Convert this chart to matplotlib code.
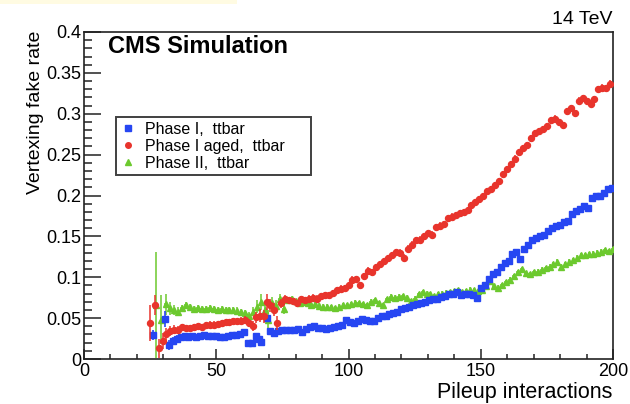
import matplotlib
matplotlib.use('Agg')
import matplotlib.pyplot as plt
from matplotlib.lines import Line2D
from matplotlib.patches import Rectangle
from matplotlib.ticker import MultipleLocator, FuncFormatter

plt.rcParams['font.family'] = ['Liberation Sans', 'DejaVu Sans']

# Phase I, ttbar (blue squares)
blue_x = [26, 30.5, 32, 33.5, 35, 36.5, 38, 39.5, 41, 42.5, 44, 45.5, 47, 48.5, 50, 51.5, 53, 54.5,
          56, 57.5, 59, 60.5, 62, 63.5, 65, 66, 67, 69, 70.5, 72, 73.5, 75, 76.5, 78, 79.5, 81,
          82.5, 84, 85.5, 87, 88.5, 90, 91.5, 93, 94.5, 96, 97.5, 99, 100.5, 102, 103.5, 105,
          106.5, 108, 109.5, 111, 112.5, 114, 115.5, 117, 118.5, 120, 121.5, 123, 124.5, 126,
          127.5, 129, 130.5, 132, 133.5, 135, 136.5, 138, 139.5, 141, 142.5, 144, 145.5, 147,
          148.5, 150, 151.5, 153, 154.5, 156, 157.5, 159, 160.5, 162, 163.5, 165, 166.5, 168,
          169.5, 171, 172.5, 174, 175.5, 177, 178.5, 180, 181.5, 183, 184.5, 186, 187.5, 189,
          190.5, 192, 193.5, 195, 196.5, 198, 199.5]
blue_y = [0.029, 0.049, 0.017, 0.022, 0.025, 0.027, 0.028, 0.027, 0.028, 0.027, 0.028, 0.029, 0.028,
          0.028, 0.028, 0.027, 0.027, 0.028, 0.029, 0.029, 0.031, 0.033, 0.020, 0.020, 0.028, 0.025,
          0.021, 0.050, 0.034, 0.032, 0.034, 0.035, 0.036, 0.036, 0.036, 0.037, 0.033, 0.037, 0.039,
          0.040, 0.038, 0.038, 0.037, 0.038, 0.039, 0.040, 0.042, 0.048, 0.045, 0.044, 0.047, 0.049,
          0.048, 0.047, 0.047, 0.050, 0.053, 0.053, 0.055, 0.056, 0.058, 0.061, 0.062, 0.064, 0.066,
          0.067, 0.069, 0.070, 0.072, 0.073, 0.074, 0.076, 0.077, 0.079, 0.079, 0.082, 0.078, 0.079,
          0.080, 0.078, 0.075, 0.087, 0.091, 0.098, 0.104, 0.107, 0.112, 0.117, 0.120, 0.129, 0.131,
          0.122, 0.134, 0.140, 0.145, 0.148, 0.150, 0.152, 0.156, 0.160, 0.163, 0.164, 0.167, 0.169,
          0.177, 0.181, 0.183, 0.187, 0.185, 0.197, 0.199, 0.200, 0.203, 0.208, 0.209]
blue_err_start = [0.006, 0.010, 0.006, 0.005, 0.004, 0.003]

# Phase I aged, ttbar (red circles)
red_x = [25, 27, 28.5, 30, 31, 32.5, 34, 35.5, 37, 38.5, 40, 41.5, 43, 44.5, 46, 47.5, 49, 50.5,
         52, 53.5, 55, 56.5, 58, 59.5, 61, 62.5, 64, 65, 66.5, 68, 69, 70.5, 72, 73, 74.5, 76,
         77.5, 79, 80.5, 82, 83.5, 85, 86.5, 88, 89.5, 91, 92.5, 94, 95.5, 97, 98.5, 100, 101.5,
         103, 104.5, 106, 107.5, 109, 110.5, 112, 113.5, 115, 116.5, 118, 119.5, 121, 122.5, 124,
         125.5, 127, 128.5, 130, 131.5, 133, 134.5, 136, 137.5, 139, 140.5, 142, 143.5, 145, 146.5,
         148, 149.5, 151, 152.5, 154, 155.5, 157, 158.5, 160, 161.5, 163, 164.5, 166, 167.5, 169,
         170.5, 172, 173.5, 175, 176.5, 178, 179.5, 181, 182.5, 184, 185.5, 187, 188.5, 190, 191.5,
         193, 194.5, 196, 197.5, 199]
red_y = [0.044, 0.066, 0.013, 0.022, 0.030, 0.034, 0.036, 0.035, 0.039, 0.038, 0.038, 0.039, 0.040,
         0.039, 0.041, 0.042, 0.042, 0.043, 0.044, 0.045, 0.045, 0.046, 0.046, 0.047, 0.048, 0.044,
         0.040, 0.051, 0.053, 0.052, 0.070, 0.066, 0.060, 0.044, 0.068, 0.073, 0.072, 0.071, 0.068,
         0.073, 0.072, 0.074, 0.075, 0.074, 0.077, 0.078, 0.078, 0.081, 0.084, 0.086, 0.087, 0.090,
         0.097, 0.098, 0.090, 0.101, 0.108, 0.106, 0.112, 0.116, 0.120, 0.123, 0.127, 0.131, 0.130,
         0.124, 0.135, 0.140, 0.145, 0.146, 0.150, 0.154, 0.152, 0.161, 0.163, 0.165, 0.172, 0.174,
         0.176, 0.178, 0.180, 0.182, 0.188, 0.192, 0.196, 0.199, 0.205, 0.208, 0.213, 0.218, 0.226,
         0.232, 0.238, 0.245, 0.253, 0.258, 0.262, 0.270, 0.276, 0.279, 0.281, 0.285, 0.292, 0.294,
         0.290, 0.286, 0.303, 0.307, 0.301, 0.316, 0.319, 0.315, 0.312, 0.318, 0.330, 0.332, 0.331,
         0.337]
red_err_start = [0.022, 0.012, 0.012, 0.010, 0.008, 0.006, 0.005, 0.005, 0.004, 0.004, 0.004, 0.004,
                 0.004, 0.004, 0.004, 0.004, 0.004, 0.004, 0.004, 0.004, 0.004, 0.004, 0.004, 0.004,
                 0.004, 0.005, 0.006, 0.007, 0.008, 0.008, 0.010, 0.008, 0.008, 0.008, 0.006, 0.005]

# Phase II, ttbar (green triangles)
green_x = [27.2, 29.3, 31, 32.5, 34, 35.5, 37, 38.5, 40, 41.5, 43, 44.5, 46, 47.5, 49, 50.5, 52,
           53.5, 55, 56.5, 58, 59.5, 61, 62.5, 64, 65.5, 67, 68.5, 69.5, 71, 72.5, 74, 75.5, 77,
           78.5, 80, 81.5, 83, 84.5, 86, 87.5, 89, 90.5, 92, 93.5, 95, 96.5, 98, 99.5, 101, 102.5,
           104, 105.5, 107, 108.5, 110, 111.5, 113, 114.5, 116, 117.5, 119, 120.5, 122, 123.5, 125,
           126.5, 128, 129.5, 131, 132.5, 134, 135.5, 137, 138.5, 140, 141.5, 143, 144.5, 146,
           147.5, 149, 150.5, 152, 153.5, 155, 156.5, 158, 159.5, 161, 162.5, 164, 165.5, 167,
           168.5, 170, 171.5, 173, 174.5, 176, 177.5, 179, 180.5, 182, 183.5, 185, 186.5, 188,
           189.5, 191, 192.5, 194, 195.5, 197, 198.5, 200]
green_y = [0.066, 0.048, 0.067, 0.062, 0.060, 0.058, 0.062, 0.066, 0.063, 0.061, 0.062, 0.061, 0.061,
           0.062, 0.061, 0.060, 0.061, 0.060, 0.060, 0.060, 0.059, 0.057, 0.056, 0.053, 0.058, 0.064,
           0.070, 0.060, 0.048, 0.068, 0.065, 0.074, 0.061, 0.072, 0.074, 0.071, 0.069, 0.070, 0.068,
           0.066, 0.067, 0.065, 0.064, 0.064, 0.063, 0.062, 0.064, 0.066, 0.066, 0.067, 0.069, 0.068,
           0.067, 0.066, 0.070, 0.072, 0.068, 0.066, 0.073, 0.076, 0.075, 0.076, 0.077, 0.075, 0.071,
           0.074, 0.079, 0.082, 0.080, 0.079, 0.077, 0.079, 0.080, 0.081, 0.082, 0.083, 0.084, 0.082,
           0.083, 0.085, 0.084, 0.083, 0.085, 0.089, 0.095, 0.089, 0.087, 0.090, 0.094, 0.097, 0.101,
           0.106, 0.110, 0.105, 0.104, 0.106, 0.107, 0.109, 0.111, 0.113, 0.116, 0.119, 0.113, 0.116,
           0.119, 0.121, 0.124, 0.127, 0.127, 0.128, 0.129, 0.130, 0.131, 0.133, 0.132, 0.134]
green_err_start = [0.065, 0.030, 0.013, 0.008, 0.006, 0.005, 0.004, 0.004, 0.004, 0.004, 0.004,
                   0.004, 0.004, 0.004, 0.004, 0.004, 0.004, 0.004, 0.004, 0.004, 0.004, 0.004,
                   0.004, 0.005, 0.006, 0.008, 0.010, 0.010, 0.012, 0.008, 0.007, 0.006, 0.006]

labels = ['Phase I,  ttbar', 'Phase I aged,  ttbar', 'Phase II,  ttbar']
colors = ['#2646f2', '#e8342c', '#6cc92e']


def full_err(start, n, rest):
    return start + [rest] * (n - len(start))


fig = plt.figure(figsize=(6.3, 4.04), dpi=100)
fig.patches.append(Rectangle((0, 1 - 4 / 404), 237 / 630, 4 / 404, transform=fig.transFigure,
                             facecolor='#fffbe2', edgecolor='none'))
ax = fig.add_axes([84 / 630, 45 / 404, 529 / 630, 327 / 404])

ax.errorbar(green_x, green_y, yerr=full_err(green_err_start, len(green_x), 0.003), xerr=0.6,
            fmt='^', ms=4.3, color=colors[2], mec=colors[2], elinewidth=1.1, capsize=0, zorder=3)
ax.errorbar(blue_x, blue_y, yerr=full_err(blue_err_start, len(blue_x), 0.003), xerr=0.75,
            fmt='s', ms=4.6, color=colors[0], mec=colors[0], elinewidth=1.2, capsize=0, zorder=4)
ax.errorbar(red_x, red_y, yerr=full_err(red_err_start, len(red_x), 0.004), xerr=0.6,
            fmt='o', ms=4.3, color=colors[1], mec=colors[1], elinewidth=1.1, capsize=0, zorder=5)

ax.set_xlim(0, 200)
ax.set_ylim(0, 0.4)
ax.xaxis.set_major_locator(MultipleLocator(50))
ax.xaxis.set_minor_locator(MultipleLocator(10))
ax.yaxis.set_major_locator(MultipleLocator(0.05))
ax.yaxis.set_minor_locator(MultipleLocator(0.01))
ax.yaxis.set_major_formatter(FuncFormatter(lambda v, p: '%g' % round(v, 2)))
ax.tick_params(axis='both', which='both', direction='in', top=False, right=False,
               labelsize=13, width=1.1, color='#222222')
ax.tick_params(axis='y', which='major', length=12, pad=2)
ax.tick_params(axis='y', which='minor', length=6)
ax.tick_params(axis='x', which='major', length=7.5, pad=3)
ax.tick_params(axis='x', which='minor', length=3.5)
for s in ax.spines.values():
    s.set_linewidth(1.2)
    s.set_color('#222222')

fig.text(612 / 630, 1 / 404, 'Pileup interactions', ha='right', va='bottom', fontsize=15.5)
fig.text(36 / 630, 1 - 31 / 404, 'Vertexing fake rate', rotation=90, ha='center', va='top', fontsize=14)
ax.text(0.045, 0.955, 'CMS Simulation', transform=ax.transAxes, ha='left', va='center',
        fontsize=17, fontweight='bold')
fig.text(612 / 630, 1 - 20 / 404, '14 TeV', ha='right', va='center', fontsize=14)

handles = [Line2D([], [], ls='none', marker=m, ms=4, color=c, mec=c)
           for m, c in zip(['s', 'o', '^'], colors)]
leg = ax.legend(handles, labels, loc='upper left', bbox_to_anchor=(0.0605, 0.566, 0.3695, 0.174),
                mode='expand', fontsize=11.5, frameon=True, fancybox=False, borderaxespad=0,
                handlelength=0.9, handletextpad=0.6, labelspacing=0.12, borderpad=0.3)
leg.get_frame().set_edgecolor('#111111')
leg.get_frame().set_linewidth(1.4)

fig.savefig('out.png', dpi=100)
